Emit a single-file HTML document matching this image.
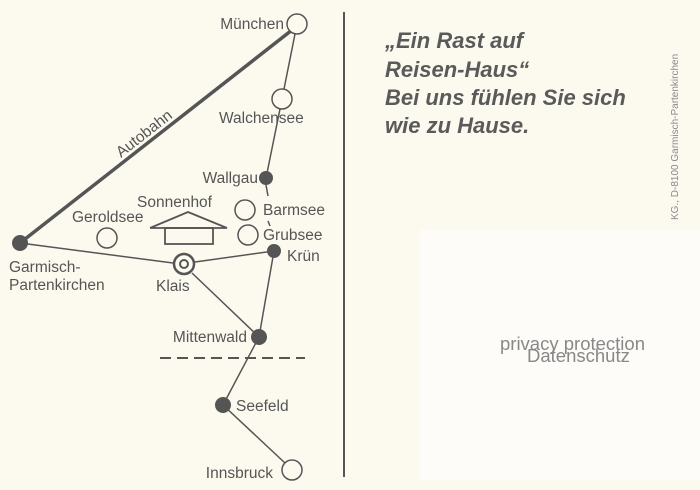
<!DOCTYPE html>
<html><head><meta charset="utf-8"><style>
html,body{margin:0;padding:0;background:#fcfaef;}
svg{display:block}
text{font-family:"Liberation Sans",sans-serif;}
</style></head><body>
<svg width="700" height="490" viewBox="0 0 700 490" xmlns="http://www.w3.org/2000/svg">
<rect width="700" height="490" fill="#fcfaef"/>
<rect x="420" y="230" width="280" height="250" fill="#fdfcf8"/>
<g stroke="#555" fill="none">
<line x1="20" y1="243" x2="292" y2="30" stroke-width="3.5"/>
<line x1="295" y1="34" x2="284" y2="89" stroke-width="1.5"/>
<line x1="280" y1="109" x2="266" y2="178" stroke-width="1.5"/>
<line x1="266" y1="185" x2="268" y2="196" stroke-width="1.5"/>
<line x1="268" y1="221" x2="270" y2="226" stroke-width="1.5"/>
<line x1="20" y1="243" x2="173" y2="263" stroke-width="1.5"/>
<line x1="195" y1="262" x2="274" y2="251" stroke-width="1.5"/>
<line x1="192" y1="273" x2="259" y2="337" stroke-width="1.5"/>
<line x1="274" y1="251" x2="259" y2="337" stroke-width="1.5"/>
<line x1="259" y1="337" x2="223" y2="405" stroke-width="1.5"/>
<line x1="223" y1="405" x2="285" y2="463" stroke-width="1.5"/>
<line x1="160" y1="358" x2="305" y2="358" stroke-width="2" stroke-dasharray="11,6"/>
<line x1="344" y1="12" x2="344" y2="477" stroke-width="2"/>
<circle cx="297" cy="24" r="10" fill="#fcfaef" stroke-width="1.5"/>
<circle cx="282" cy="99" r="10" fill="#fcfaef" stroke-width="1.5"/>
<circle cx="245" cy="210" r="10" fill="#fcfaef" stroke-width="1.5"/>
<circle cx="248" cy="235" r="10" fill="#fcfaef" stroke-width="1.5"/>
<circle cx="107" cy="238" r="10" fill="#fcfaef" stroke-width="1.5"/>
<circle cx="292" cy="470" r="10" fill="#fcfaef" stroke-width="1.5"/>
<circle cx="184" cy="264" r="10" fill="#fcfaef" stroke-width="2.5"/>
<circle cx="184" cy="264" r="4" fill="#fcfaef" stroke-width="2"/>
<polyline points="150,228 188,212 227,228 150,228" stroke-width="1.8"/>
<rect x="165" y="228" width="48" height="16" stroke-width="1.8"/>
</g>
<g fill="#555">
<circle cx="266" cy="178" r="7"/>
<circle cx="274" cy="251" r="7"/>
<circle cx="20" cy="243" r="8"/>
<circle cx="259" cy="337" r="8"/>
<circle cx="223" cy="405" r="8"/>
</g>
<g font-size="15.5" fill="#555">
<text x="284" y="29" text-anchor="end">München</text>
<text x="219" y="123">Walchensee</text>
<text x="258" y="183" text-anchor="end">Wallgau</text>
<text x="137" y="207">Sonnenhof</text>
<text x="72" y="222">Geroldsee</text>
<text x="263" y="215">Barmsee</text>
<text x="263" y="240">Grubsee</text>
<text x="287" y="261">Krün</text>
<text x="9" y="272">Garmisch-</text>
<text x="9" y="290">Partenkirchen</text>
<text x="156" y="291">Klais</text>
<text x="247" y="342" text-anchor="end">Mittenwald</text>
<text x="236" y="411">Seefeld</text>
<text x="273" y="478" text-anchor="end">Innsbruck</text>
<text x="0" y="0" transform="translate(121,158) rotate(-38)">Autobahn</text>
</g>
<g font-size="22" font-weight="bold" font-style="italic" fill="#5a5a5a">
<text x="385" y="48">„Ein Rast auf</text>
<text x="385" y="77">Reisen-Haus“</text>
<text x="385" y="105">Bei uns fühlen Sie sich</text>
<text x="385" y="133">wie zu Hause.</text>
</g>
<text x="0" y="0" font-size="10" fill="#888" transform="translate(678,220) rotate(-90)">KG., D-8100 Garmisch-Partenkirchen</text>
<g font-size="18.5" fill="#888">
<text x="500" y="350">privacy protection</text>
<text x="527" y="362">Datenschutz</text>
</g>
</svg>
</body></html>
